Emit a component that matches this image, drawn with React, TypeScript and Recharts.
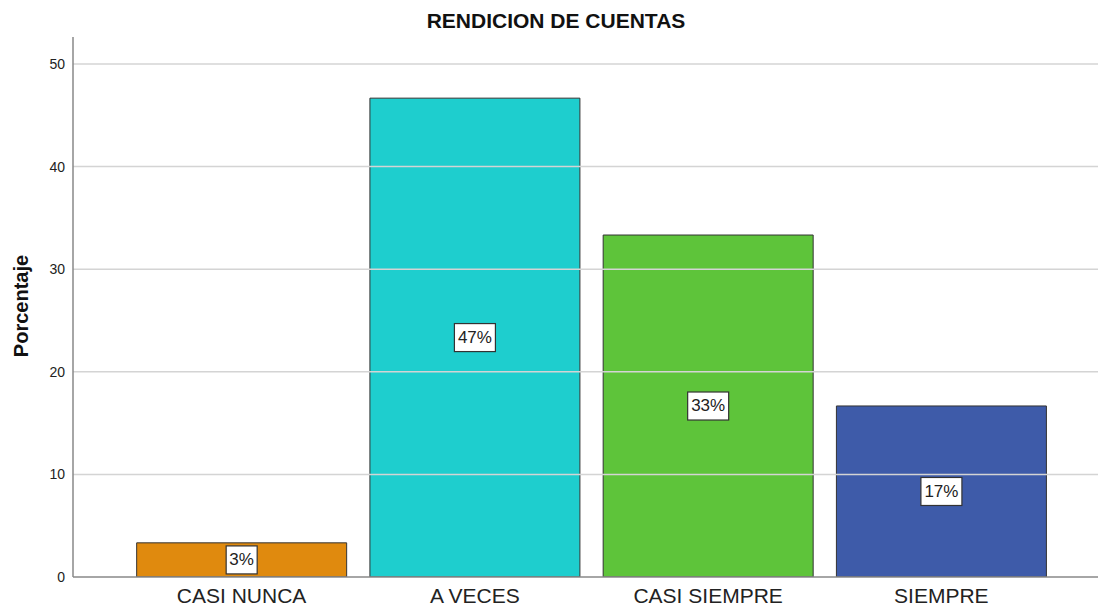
import React from 'react';
import { BarChart, Bar, XAxis, YAxis, Cell, LabelList, ReferenceLine } from 'recharts';

const categories = ['CASI NUNCA', 'A VECES', 'CASI SIEMPRE', 'SIEMPRE'];
const percents = [3.33, 46.67, 33.33, 16.67];
const barLabels = ['3%', '47%', '33%', '17%'];
const barColors = ['#E08A0E', '#1ECECE', '#5EC43A', '#3E5BA9'];
const yTicks = [0, 10, 20, 30, 40, 50];

const data = categories.map((name, i) => ({ name, value: percents[i], label: barLabels[i] }));

const font = '"Liberation Sans", Arial, sans-serif';

// white boxed percentage in the middle of each bar
const BoxLabel = (props: any) => {
  const { x, y, width, height, value } = props;
  const cx = x + width / 2;
  const cy = y + height / 2;
  const w = String(value).length * 10 + 11;
  const h = 28;
  return (
    <g>
      <rect x={cx - w / 2} y={cy - h / 2} width={w} height={h} fill="#fff" stroke="#333" strokeWidth={1.2} />
      <text x={cx} y={cy + 1} textAnchor="middle" dominantBaseline="middle" fontSize={17} fontFamily={font} fill="#222">
        {value}
      </text>
    </g>
  );
};

const App: React.FC = () => {
  return (
    <div style={{ position: 'absolute', left: 0, top: 0, width: 1098, height: 609, background: '#fff', fontFamily: font }}>
      <div style={{ position: 'absolute', left: 0, width: 1112, top: 9, textAlign: 'center', fontWeight: 'bold', fontSize: 21, color: '#111' }}>
        RENDICION DE CUENTAS
      </div>
      <div
        style={{
          position: 'absolute', left: 21, top: 306, transform: 'translate(-50%, -50%) rotate(-90deg)',
          fontWeight: 'bold', fontSize: 20, color: '#111', whiteSpace: 'nowrap',
        }}
      >
        Porcentaje
      </div>
      <BarChart
        width={1098}
        height={609}
        data={data}
        margin={{ top: 37, right: 0, bottom: 0, left: 0 }}
        barCategoryGap="5%"
      >
        {yTicks.slice(1).map((t) => (
          <ReferenceLine key={t} y={t} stroke="#d4d4d4" strokeWidth={1.5} />
        ))}
        <XAxis
          dataKey="name"
          height={32}
          tickLine={false}
          tickSize={0}
          tickMargin={11}
          axisLine={{ stroke: '#888', strokeWidth: 1.5 }}
          padding={{ left: 52, right: 40 }}
          tick={{ fontSize: 21, fill: '#222', fontFamily: font }}
          interval={0}
        />
        <YAxis
          width={73}
          domain={[0, 52.63]}
          ticks={yTicks}
          tickLine={false}
          tickSize={0}
          tickMargin={8}
          axisLine={{ stroke: '#888', strokeWidth: 1.5 }}
          tick={{ fontSize: 14, fill: '#222', fontFamily: font }}
          allowDataOverflow
        />
        <Bar dataKey="value" isAnimationActive={false} stroke="#333" strokeWidth={1}>
          {data.map((d, i) => (
            <Cell key={d.name} fill={barColors[i]} />
          ))}
          <LabelList dataKey="label" content={BoxLabel} />
        </Bar>
      </BarChart>
    </div>
  );
};

export default App;
